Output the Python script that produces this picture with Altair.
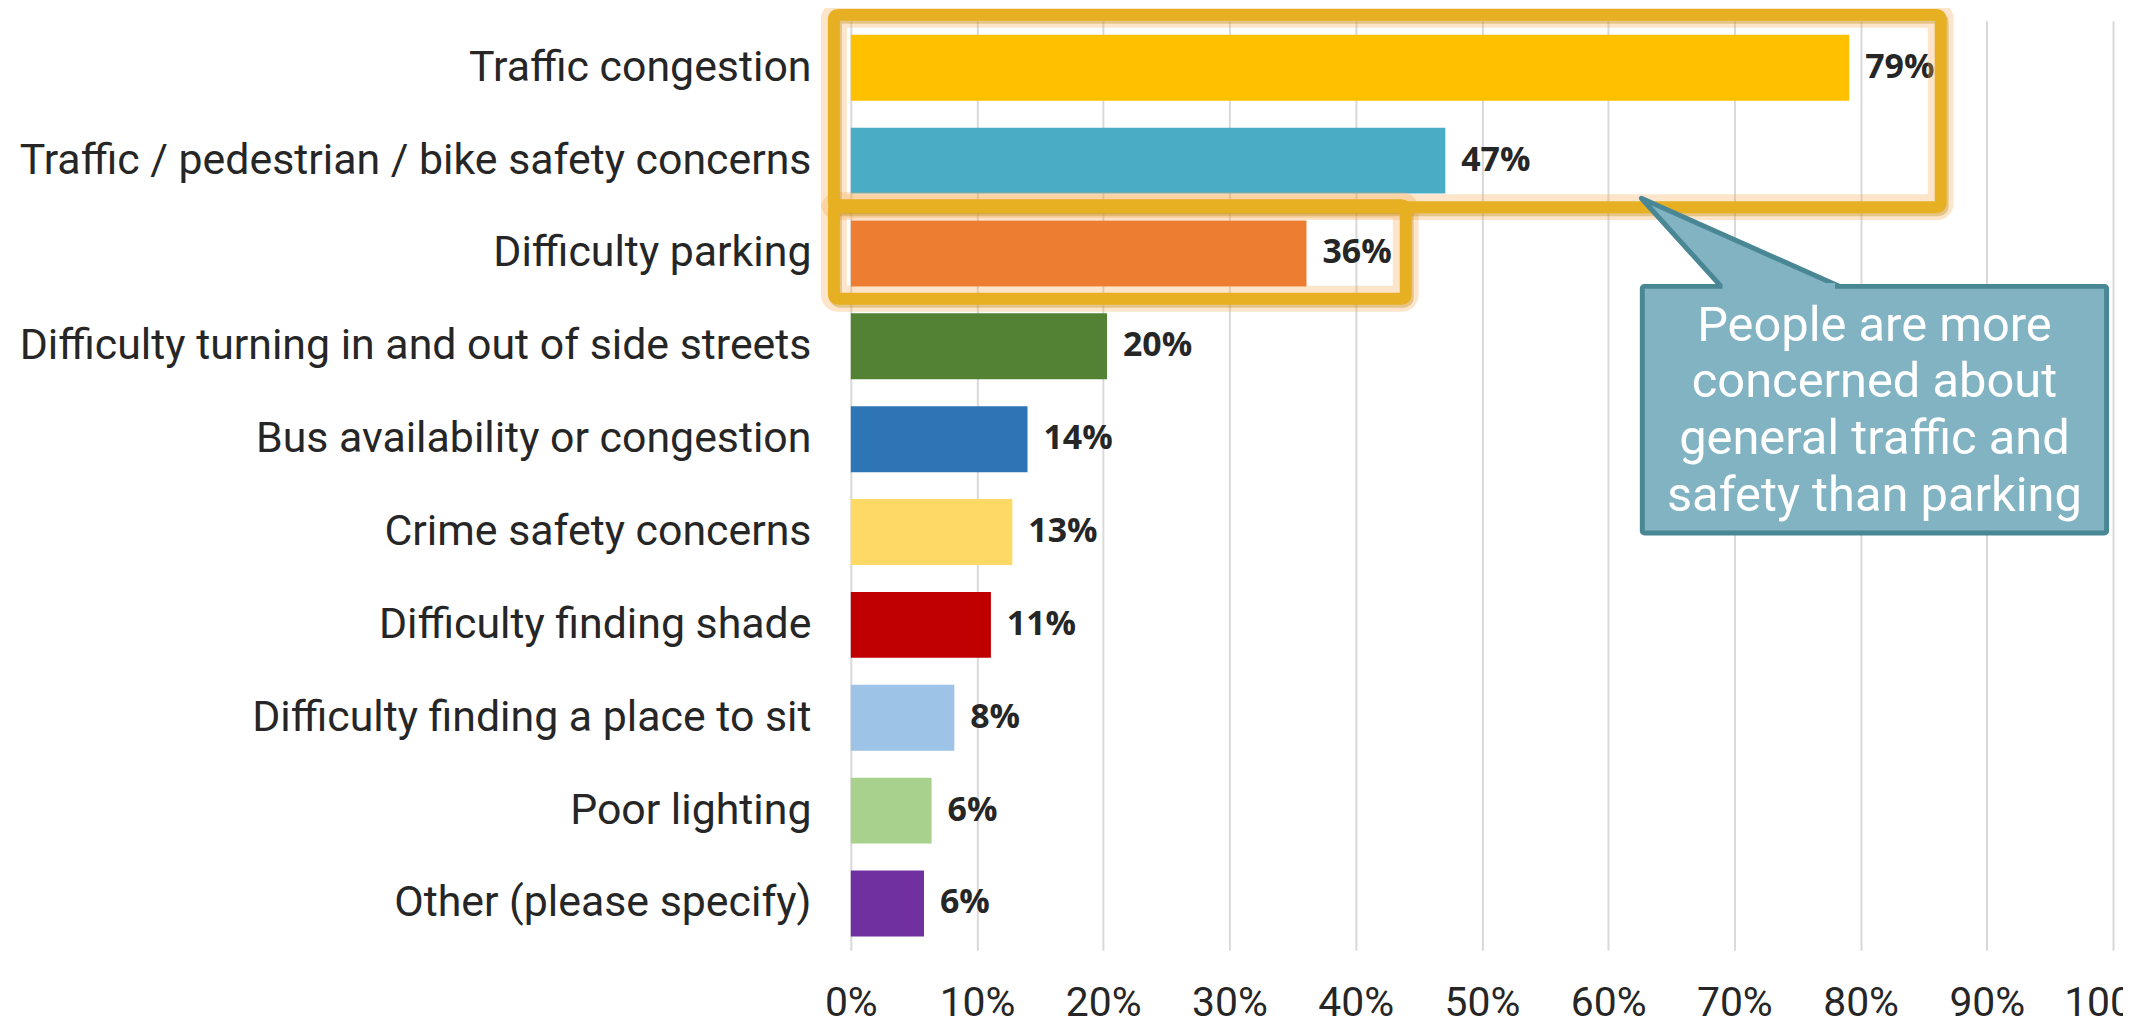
import altair as alt
import pandas as pd

categories = [
    "Traffic congestion",
    "Traffic / pedestrian / bike safety concerns",
    "Difficulty parking",
    "Difficulty turning in and out of side streets",
    "Bus availability or congestion",
    "Crime safety concerns",
    "Difficulty finding shade",
    "Difficulty finding a place to sit",
    "Poor lighting",
    "Other (please specify)",
]
values = [79.1, 47.1, 36.1, 20.3, 14.0, 12.8, 11.1, 8.2, 6.4, 5.8]
value_labels = ["79%", "47%", "36%", "20%", "14%", "13%", "11%", "8%", "6%", "6%"]
colors = ["#FFC000", "#4BACC6", "#ED7D31", "#548235", "#2E75B6",
          "#FFD966", "#C00000", "#9DC3E6", "#A9D18E", "#7030A0"]
x_ticks = [0, 10, 20, 30, 40, 50, 60, 70, 80, 90, 100]
callout_lines = ["People are more", "concerned about", "general traffic and", "safety than parking"]

df = pd.DataFrame({"category": categories, "value": values, "label": value_labels})
ann = pd.DataFrame({"k": [0]})

TXT = "#262626"

y_enc = alt.Y(
    "category:N", sort=categories,
    scale=alt.Scale(paddingInner=0.29, paddingOuter=0.15),
    axis=alt.Axis(title=None, ticks=False, domain=False, labelFont="Roboto",
                  labelFontSize=43, labelColor=TXT, labelPadding=40, labelLimit=1200),
)
x_enc = alt.X(
    "value:Q",
    scale=alt.Scale(domain=[0, 100], nice=False),
    axis=alt.Axis(title=None, values=x_ticks, labelExpr="datum.value + '%'",
                  grid=True, gridColor="#D9D9D9", gridWidth=2, ticks=False,
                  domain=False, labelFont="Roboto", labelFontSize=41,
                  labelColor=TXT, labelPadding=33, labelFlush=False,
                  labelOverlap=False),
)

bars = alt.Chart(df).mark_bar().encode(
    y=y_enc, x=x_enc,
    color=alt.Color("category:N", scale=alt.Scale(domain=categories, range=colors), legend=None),
)
labels = alt.Chart(df).mark_text(
    align="left", baseline="middle", dx=16, font="Open Sans", fontWeight="bold",
    fontSize=34, color=TXT,
).encode(y=alt.Y("category:N", sort=categories), x="value:Q", text="label:N")

GOLD = "#E6B022"
GLOW = "#F5A850"
SHADE = "#B8860B"

def box(x1, x2, y1, y2, color, width, opacity=1.0):
    return alt.Chart(ann).mark_rect(
        fillOpacity=0, stroke=color, strokeWidth=width, strokeOpacity=opacity, cornerRadius=4
    ).encode(x=alt.value(x1), x2=alt.value(x2), y=alt.value(y1), y2=alt.value(y2))

BIG = (-17, 1094, -6, 187)
SMALL = (-17, 557, 185, 279)
big_glow = box(*BIG, GLOW, 26, 0.3)
small_glow = box(*SMALL, GLOW, 26, 0.3)
big_shade = box(BIG[0] + 2, BIG[1] + 2, BIG[2] + 3, BIG[3] + 3, SHADE, 12, 0.35)
small_shade = box(SMALL[0] + 2, SMALL[1] + 2, SMALL[2] + 3, SMALL[3] + 3, SHADE, 12, 0.35)
big_box = box(*BIG, GOLD, 12)
small_box = box(*SMALL, GOLD, 12)

CFILL = "#81B3C3"
CSTROKE = "#4A8795"

tri_path = "M -0.959 -0.427 L -0.186 0.427 L 0.959 0.427 Z"
pointer = alt.Chart(ann).mark_point(
    shape=tri_path, size=48400, filled=True, fill=CFILL, stroke=CSTROKE,
    strokeWidth=5, opacity=1, fillOpacity=1, strokeOpacity=1, strokeJoin="round",
).encode(x=alt.value(899), y=alt.value(225))

callout_box = alt.Chart(ann).mark_rect(
    fill=CFILL, stroke=CSTROKE, strokeWidth=5, cornerRadius=2
).encode(x=alt.value(794.5), x2=alt.value(1260.5), y=alt.value(266.5), y2=alt.value(514))

patch = alt.Chart(ann).mark_rect(fill=CFILL, strokeWidth=0).encode(
    x=alt.value(875), x2=alt.value(988), y=alt.value(263), y2=alt.value(270)
)

callout_text = alt.Chart(ann).mark_text(
    font="Roboto", fontSize=49, color="white", align="center", baseline="middle",
    lineHeight=57,
).encode(x=alt.value(1027.5), y=alt.value(306), text=alt.value(callout_lines))

chart = alt.layer(
    bars, labels, big_glow, small_glow, big_shade, small_shade, big_box, small_box,
    pointer, callout_box, patch, callout_text,
).properties(
    width=1267, height=933,
    autosize=alt.AutoSizeParams(type="none"),
    padding={"left": 846, "top": 11, "right": 10, "bottom": 73},
    background="white",
).configure_view(stroke=None)

chart.save("out.html", embed_options={"renderer": "svg", "actions": False})
